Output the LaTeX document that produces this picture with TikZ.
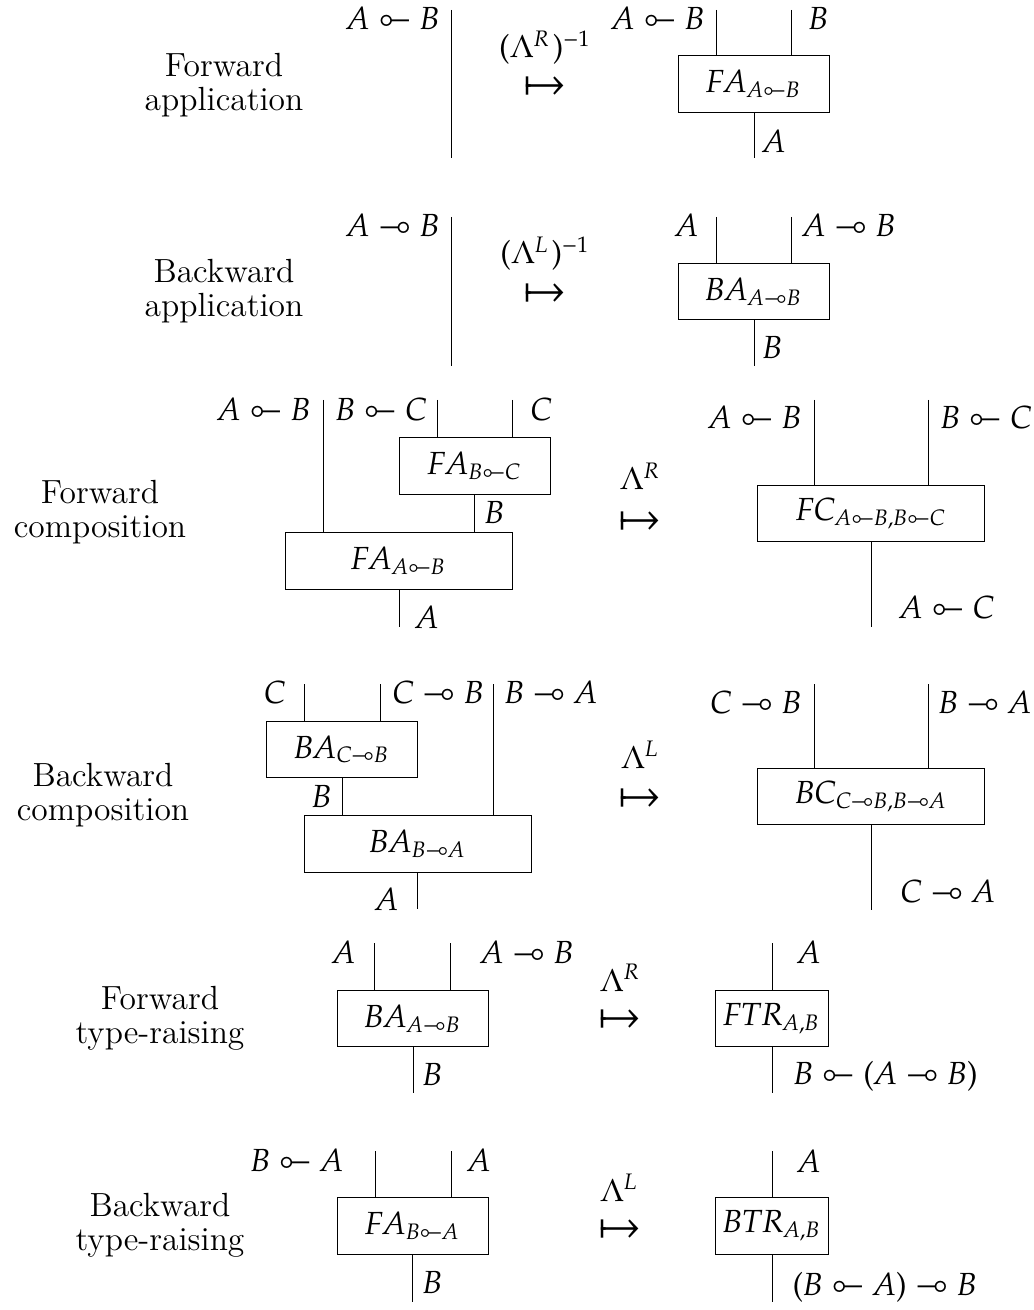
\documentclass[tikz,border=0pt]{standalone}
\usepackage{pxfonts}
\usetikzlibrary{positioning}

\tikzset{
  wire/.style={line width=0.4pt},
  morph/.style={draw, line width=0.4pt, inner sep=0pt, minimum height=22.6pt,
    font=\fontsize{12.8}{14}\selectfont},
  boxS/.style={morph, minimum width=60.4pt},
  boxL/.style={morph, minimum width=90.8pt},
  boxT/.style={morph, minimum width=45.2pt},
  cat/.style={align=center, font=\fontsize{13.4}{13.6}\selectfont},
  lab/.style={inner sep=0pt, font=\fontsize{12.8}{14}\selectfont},
  arr/.style={inner sep=0pt, text height=8pt, text depth=0pt,
    font=\fontsize{17}{18}\selectfont}
}

\begin{document}
\begin{tikzpicture}[x=0.4pt, y=-0.4pt]
    \useasboundingbox (0,0) rectangle (1033,1310);

    % Forward application
    \node[cat] (c1) at (224,85) {Forward\\application};
    \coordinate (p1a) at (451,10);
    \coordinate (p1b) at (451,158);
    \draw[wire] (p1a) -- (p1b);
    \node[lab, anchor=base east] (l1a) at (440,30) {$A \multimapinv B$};
    \node[lab, anchor=base] (m1) at (545,58) {$(\Lambda^{R}\mkern1.5mu)^{-1}$};
    \node[arr] (a1) at (545,88) {$\mapsto$};
    \node[boxS] (fa1) at (753.5,84) {$FA_{A \multimapinv B}$};
    \coordinate (q1a) at (716,10);
    \coordinate (q1b) at (791,10);
    \coordinate (q1c) at (754,158);
    \draw[wire] (q1a) -- (q1a |- fa1.north);
    \draw[wire] (q1b) -- (q1b |- fa1.north);
    \draw[wire] (fa1.south -| q1c) -- (q1c);
    \node[lab, anchor=base east] (l1b) at (705,30) {$A \multimapinv B$};
    \node[lab, anchor=base west] (l1c) at (808,30) {$B$};
    \node[lab, anchor=base west] (l1d) at (762,153) {$A$};

    % Backward application
    \node[cat] (c2) at (224,291) {Backward\\application};
    \coordinate (p2a) at (451,217);
    \coordinate (p2b) at (451,366);
    \draw[wire] (p2a) -- (p2b);
    \node[lab, anchor=base east] (l2a) at (440,237) {$A \multimap B$};
    \node[lab, anchor=base] (m2) at (545,264) {$(\Lambda^{L}\mkern1.5mu)^{-1}$};
    \node[arr] (a2) at (545,295) {$\mapsto$};
    \node[boxS] (ba2) at (753.5,291.5) {$BA_{A \multimap B}$};
    \coordinate (q2a) at (716,217);
    \coordinate (q2b) at (791,217);
    \coordinate (q2c) at (754,366);
    \draw[wire] (q2a) -- (q2a |- ba2.north);
    \draw[wire] (q2b) -- (q2b |- ba2.north);
    \draw[wire] (ba2.south -| q2c) -- (q2c);
    \node[lab, anchor=base east] (l2b) at (699,237) {$A$};
    \node[lab, anchor=base west] (l2c) at (802,237) {$A \multimap B$};
    \node[lab, anchor=base west] (l2d) at (762,359) {$B$};

    % Forward composition
    \node[cat] (c3) at (100,512) {Forward\\composition};
    \node[boxS] (fa3s) at (474.5,466) {$FA_{B \multimapinv C}$};
    \node[boxL] (fa3l) at (398.5,561) {$FA_{A \multimapinv B}$};
    \coordinate (p3a) at (323,400);
    \coordinate (p3b) at (437,400);
    \coordinate (p3c) at (512,400);
    \coordinate (p3d) at (474,500);
    \coordinate (p3e) at (399,627);
    \draw[wire] (p3a) -- (p3a |- fa3l.north);
    \draw[wire] (p3b) -- (p3b |- fa3s.north);
    \draw[wire] (p3c) -- (p3c |- fa3s.north);
    \draw[wire] (fa3s.south -| p3d) -- (fa3l.north -| p3d);
    \draw[wire] (fa3l.south -| p3e) -- (p3e);
    \node[lab, anchor=base east] (l3a) at (311,421) {$A \multimapinv B$};
    \node[lab, anchor=base west] (l3b) at (335,421) {$B \multimapinv C$};
    \node[lab, anchor=base west] (l3c) at (530,421) {$C$};
    \node[lab, anchor=base west] (l3d) at (484,523) {$B$};
    \node[lab, anchor=base west] (l3e) at (415,628) {$A$};
    \node[lab, anchor=base] (m3) at (640,490) {$\Lambda^R$};
    \node[arr] (a3) at (640,522) {$\mapsto$};
    \node[boxL] (fc3) at (871,513.5) {$FC_{A \multimapinv B, B \multimapinv C}$};
    \coordinate (q3a) at (814,400);
    \coordinate (q3b) at (928,400);
    \coordinate (q3c) at (871,627);
    \draw[wire] (q3a) -- (q3a |- fc3.north);
    \draw[wire] (q3b) -- (q3b |- fc3.north);
    \draw[wire] (fc3.south -| q3c) -- (q3c);
    \node[lab, anchor=base east] (l3f) at (802,429) {$A \multimapinv B$};
    \node[lab, anchor=base west] (l3g) at (940,429) {$B \multimapinv C$};
    \node[lab, anchor=base west] (l3h) at (899,618) {$A \multimapinv C$};

    % Backward composition
    \node[cat] (c4) at (103,795) {Backward\\composition};
    \node[boxS] (ba4s) at (341.5,749.5) {$BA_{C \multimap B}$};
    \node[boxL] (ba4l) at (417.5,844) {$BA_{B \multimap A}$};
    \coordinate (p4a) at (304,684);
    \coordinate (p4b) at (380,684);
    \coordinate (p4c) at (493,684);
    \coordinate (p4d) at (342,790);
    \coordinate (p4e) at (417,909);
    \draw[wire] (p4a) -- (p4a |- ba4s.north);
    \draw[wire] (p4b) -- (p4b |- ba4s.north);
    \draw[wire] (p4c) -- (p4c |- ba4l.north);
    \draw[wire] (ba4s.south -| p4d) -- (ba4l.north -| p4d);
    \draw[wire] (ba4l.south -| p4e) -- (p4e);
    \node[lab, anchor=base east] (l4a) at (286,703) {$C$};
    \node[lab, anchor=base west] (l4b) at (392,703) {$C \multimap B$};
    \node[lab, anchor=base west] (l4c) at (504,703) {$B \multimap A$};
    \node[lab, anchor=base east] (l4d) at (332,807) {$B$};
    \node[lab, anchor=base east] (l4e) at (399,910) {$A$};
    \node[lab, anchor=base] (m4) at (640,768) {$\Lambda^L$};
    \node[arr] (a4) at (640,799) {$\mapsto$};
    \node[boxL] (bc4) at (871,796.5) {$BC_{C \multimap B, B \multimap A}$};
    \coordinate (q4a) at (814,684);
    \coordinate (q4b) at (928,684);
    \coordinate (q4c) at (871,910);
    \draw[wire] (q4a) -- (q4a |- bc4.north);
    \draw[wire] (q4b) -- (q4b |- bc4.north);
    \draw[wire] (bc4.south -| q4c) -- (q4c);
    \node[lab, anchor=base east] (l4f) at (802,713) {$C \multimap B$};
    \node[lab, anchor=base west] (l4g) at (938,713) {$B \multimap A$};
    \node[lab, anchor=base west] (l4h) at (900,902) {$C \multimap A$};

    % Forward type-raising
    \node[cat] (c5) at (160,1018) {Forward\\type-raising};
    \node[boxS] (ba5) at (412.5,1018.5) {$BA_{A \multimap B}$};
    \coordinate (p5a) at (374,943);
    \coordinate (p5b) at (450,943);
    \coordinate (p5c) at (413,1093);
    \draw[wire] (p5a) -- (p5a |- ba5.north);
    \draw[wire] (p5b) -- (p5b |- ba5.north);
    \draw[wire] (ba5.south -| p5c) -- (p5c);
    \node[lab, anchor=base east] (l5a) at (356,963) {$A$};
    \node[lab, anchor=base west] (l5b) at (480,963) {$A \multimap B$};
    \node[lab, anchor=base west] (l5c) at (422,1085) {$B$};
    \node[lab, anchor=base] (m5) at (620,991) {$\Lambda^R$};
    \node[arr] (a5) at (620,1020) {$\mapsto$};
    \node[boxT] (ftr5) at (771.5,1018.5) {$FTR_{A,B}$};
    \coordinate (q5a) at (772,943);
    \coordinate (q5b) at (772,1093);
    \draw[wire] (q5a) -- (q5a |- ftr5.north);
    \draw[wire] (ftr5.south -| q5b) -- (q5b);
    \node[lab, anchor=base west] (l5d) at (797,963) {$A$};
    \node[lab, anchor=base west] (l5e) at (793,1084) {$B \multimapinv (A \multimap B)$};

    % Backward type-raising
    \node[cat] (c6) at (160,1225) {Backward\\type-raising};
    \node[boxS] (fa6) at (412.5,1226) {$FA_{B \multimapinv A}$};
    \coordinate (p6a) at (375,1151);
    \coordinate (p6b) at (451,1151);
    \coordinate (p6c) at (412,1302);
    \draw[wire] (p6a) -- (p6a |- fa6.north);
    \draw[wire] (p6b) -- (p6b |- fa6.north);
    \draw[wire] (fa6.south -| p6c) -- (p6c);
    \node[lab, anchor=base east] (l6a) at (344,1171) {$B \multimapinv A$};
    \node[lab, anchor=base west] (l6b) at (467,1171) {$A$};
    \node[lab, anchor=base west] (l6c) at (422,1293) {$B$};
    \node[lab, anchor=base] (m6) at (619,1201) {$\Lambda^L$};
    \node[arr] (a6) at (620,1230) {$\mapsto$};
    \node[boxT] (btr6) at (771.5,1226) {$BTR_{A,B}$};
    \coordinate (q6a) at (772,1151);
    \coordinate (q6b) at (772,1302);
    \draw[wire] (q6a) -- (q6a |- btr6.north);
    \draw[wire] (btr6.south -| q6b) -- (q6b);
    \node[lab, anchor=base west] (l6d) at (797,1172) {$A$};
    \node[lab, anchor=base west] (l6e) at (792,1295) {$(B \multimapinv A) \multimap B$};
\end{tikzpicture}
\end{document}
